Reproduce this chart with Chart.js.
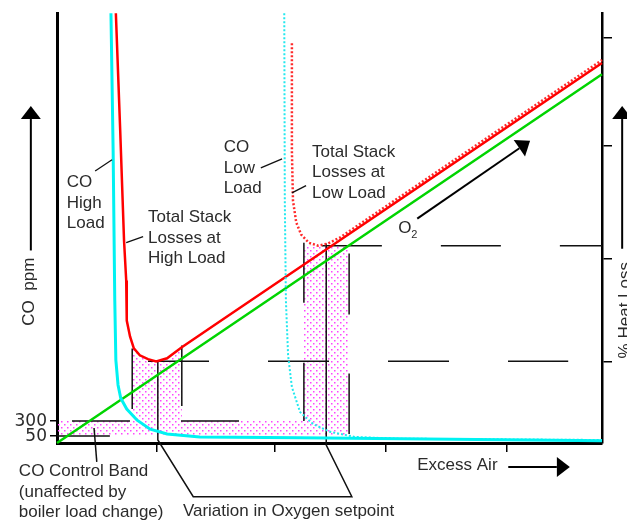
<!DOCTYPE html>
<html>
<head>
<meta charset="utf-8">
<title>Excess air, CO and stack losses</title>
<script src="https://cdn.jsdelivr.net/npm/chart.js@4.4.1/dist/chart.umd.min.js"></script>
<style>
  html, body { margin: 0; padding: 0; background: #fff; }
</style>
</head>
<body>
<canvas id="chart_box" width="627" height="524"></canvas>
<script>
// x = excess air, y = heat loss, both on a 0-100 scale
var baseLossX = [0, 100];
var baseLossY = [0, 85.8];

var stackHighX = [10.8, 11.6, 12.3, 12.7, 12.8, 13.4, 14.1, 15.2, 16.7, 18.2, 20.2, 22.9, 30.8, 100];
var stackHighY = [100, 72.6, 47.1, 37.8, 28.5, 24.8, 22.0, 20.4, 19.5, 19.0, 19.7, 22.3, 29.1, 88.4];

var stackLowX = [43.1, 43.1, 43.3, 43.9, 44.8, 46.2, 47.9, 49.7, 51.9, 100];
var stackLowY = [93.0, 68.0, 56.4, 51.3, 48.5, 46.6, 45.9, 46.4, 47.8, 89.1];

var coHighX = [9.9, 10.3, 10.6, 10.8, 11.2, 11.7, 12.8, 14.7, 17.1, 20.2, 26.2, 44.6, 100];
var coHighY = [100, 68.0, 33.2, 19.3, 13.5, 10.4, 7.9, 5.3, 3.2, 2.1, 1.4, 1.2, 0.5];

var coLowX = [41.7, 41.8, 42.0, 42.4, 43.1, 44.6, 47.0, 50.1, 54.7, 62.9, 100];
var coLowY = [100, 56.4, 33.2, 20.4, 13.0, 7.2, 4.4, 2.6, 1.4, 1.0, 0.7];

// dotted area: control band plus the two setpoint windows
var bandX = [0, 13.9, 13.9, 15.2, 16.7, 18.2, 20.2, 22.9, 22.9, 45.3, 45.3, 53.6, 53.6];
var bandY = [5.1, 5.1, 22.8, 20.4, 19.5, 19.0, 19.7, 22.3, 5.1, 5.1, 45.9, 45.9, 1.6];
var bandFloor = 1.6;

// reference lines
var highMinX = [16.7, 93.8];
var highMinY = [19.0, 19.0];
var lowMinX = [48.6, 100];
var lowMinY = [45.9, 45.9];
var ppm300X = [2.75, 33.9];
var ppm300Y = [5.1, 5.1];
var ppm50X = [0, 9.7];
var ppm50Y = [1.6, 1.6];
var highLeftX = [13.8, 13.8];
var highLeftY = [22.0, 7.9];
var highRightX = [22.9, 22.9];
var highRightY = [22.7, 8.6];
var lowLeftX = [45.3, 45.3];
var lowLeftY = [46.6, 5.1];
var lowRightX = [53.6, 53.6];
var lowRightY = [44.1, 2.1];
var bracketX = [18.5, 18.5, 25.0, 54.1, 49.4, 49.4];
var bracketY = [19.0, 0.7, -12.5, -12.5, -0.5, 46.4];
var bandLeaderX = [6.8, 7.3];
var bandLeaderY = [3.5, -4.4];

// axis ticks
var coTickValues = [1.6, 5.1];
var coTickLabels = ["50", "300"];
var lossTickValues = [18.8, 42.9, 69.1, 94.4];
var airTickValues = [18.3, 40.0, 60.4, 82.6];

function pts(xs, ys) {
  return xs.map(function (x, i) { return { x: x, y: ys[i] }; });
}

function lineSet(xs, ys, color, width, dash) {
  return {
    data: pts(xs, ys),
    borderColor: color,
    borderWidth: width,
    borderDash: dash || [],
    pointRadius: 0,
    fill: false,
    clip: false,
    tension: 0
  };
}

var canvas = document.getElementById("chart_box");
var dots = document.createElement("canvas");
dots.width = 6;
dots.height = 6;
var dctx = dots.getContext("2d");
dctx.fillStyle = "#ff44ff";
dctx.fillRect(1, 1, 1.5, 1.5);
dctx.fillRect(4, 4, 1.5, 1.5);
var dotPattern = canvas.getContext("2d").createPattern(dots, "repeat");

var black = "#111";
var ink = "#2b2b2b";
var font = '17px "Liberation Sans", Arial, sans-serif';

var textBlocks = [
  { lines: ["CO", "High", "Load"], x: 1.8, y: 60.6 },
  { lines: ["Total Stack", "Losses at", "High Load"], x: 16.7, y: 52.4 },
  { lines: ["CO", "Low", "Load"], x: 30.6, y: 68.7 },
  { lines: ["Total Stack", "Losses at", "Low Load"], x: 46.8, y: 67.7 },
  { lines: ["Excess Air"], x: 66.1, y: -5.3 },
  { lines: ["Variation in Oxygen setpoint"], x: 23.1, y: -16.0 },
  { lines: ["CO Control Band", "(unaffected by", "boiler load change)"], x: -7.0, y: -6.7 }
];
var leaders = [
  [7.0, 63.3, 10.1, 65.9],
  [12.7, 46.6, 15.8, 48.0],
  [37.4, 64.0, 41.3, 66.1],
  [43.1, 58.2, 45.7, 59.9]
];
var arrows = [
  [-4.8, 44.8, -4.8, 78.4],
  [103.7, 45.2, 103.7, 78.4],
  [82.8, -5.6, 94.1, -5.6],
  [66.1, 52.2, 86.8, 70.3]
];

var notes = {
  id: "notes",
  afterDraw: function (chart) {
    var ctx = chart.ctx;
    var xs = chart.scales.x, ys = chart.scales.y;
    function px(v) { return xs.getPixelForValue(v); }
    function py(v) { return ys.getPixelForValue(v); }

    ctx.save();
    ctx.fillStyle = ink;
    ctx.font = font;
    ctx.textAlign = "left";
    ctx.textBaseline = "middle";
    textBlocks.forEach(function (b) {
      b.lines.forEach(function (t, i) {
        ctx.fillText(t, px(b.x), py(b.y) + i * 20.5);
      });
    });

    // O2 label
    ctx.fillText("O", px(62.6), py(49.9));
    ctx.font = '11px "Liberation Sans", Arial, sans-serif';
    ctx.fillText("2", px(62.6) + 13, py(49.9) + 6);

    // rotated axis titles
    ctx.font = font;
    ctx.textAlign = "center";
    ctx.textBaseline = "alphabetic";
    ctx.save();
    ctx.translate(px(-4.3), py(35.2));
    ctx.rotate(-Math.PI / 2);
    ctx.fillText("CO  ppm", 0, 0);
    ctx.restore();
    ctx.save();
    ctx.translate(px(105.1), py(30.9));
    ctx.rotate(-Math.PI / 2);
    ctx.fillText("% Heat Loss", 0, 0);
    ctx.restore();

    // leader lines
    ctx.strokeStyle = black;
    ctx.lineWidth = 1.3;
    leaders.forEach(function (l) {
      ctx.beginPath();
      ctx.moveTo(px(l[0]), py(l[1]));
      ctx.lineTo(px(l[2]), py(l[3]));
      ctx.stroke();
    });

    // arrows
    ctx.fillStyle = "#000";
    ctx.strokeStyle = "#000";
    ctx.lineWidth = 2;
    arrows.forEach(function (a) {
      var x1 = px(a[0]), y1 = py(a[1]), x2 = px(a[2]), y2 = py(a[3]);
      var ang = Math.atan2(y2 - y1, x2 - x1);
      var len = 13, half = 10;
      var bx = x2 - len * Math.cos(ang), by = y2 - len * Math.sin(ang);
      ctx.beginPath();
      ctx.moveTo(x1, y1);
      ctx.lineTo(bx, by);
      ctx.stroke();
      ctx.beginPath();
      ctx.moveTo(x2, y2);
      ctx.lineTo(bx + half * Math.sin(ang), by - half * Math.cos(ang));
      ctx.lineTo(bx - half * Math.sin(ang), by + half * Math.cos(ang));
      ctx.closePath();
      ctx.fill();
    });
    ctx.restore();
  }
};

var shade = lineSet(bandX, bandY, "transparent", 0);
shade.fill = { value: bandFloor };
shade.backgroundColor = dotPattern;
shade.clip = 0;

new Chart(canvas, {
  type: "line",
  data: {
    datasets: [
      lineSet(coHighX, coHighY, "#00f2f2", 3),
      lineSet(coLowX, coLowY, "#22e8ee", 2, [2, 2]),
      lineSet(stackHighX, stackHighY, "#ff0000", 2.5),
      lineSet(stackLowX, stackLowY, "#ff2a2a", 2.5, [2, 2]),
      lineSet(baseLossX, baseLossY, "#00d400", 2.5),
      lineSet(highMinX, highMinY, black, 1.5, [61, 59]),
      lineSet(lowMinX, lowMinY, black, 1.5, [60, 59]),
      lineSet(ppm300X, ppm300Y, black, 1.5, [58, 51]),
      lineSet(ppm50X, ppm50Y, black, 1.5),
      lineSet(highLeftX, highLeftY, black, 1.5),
      lineSet(highRightX, highRightY, black, 1.5),
      lineSet(lowLeftX, lowLeftY, black, 1.5, [60, 60]),
      lineSet(lowRightX, lowRightY, black, 1.5, [61, 59]),
      lineSet(bracketX, bracketY, black, 1.5),
      lineSet(bandLeaderX, bandLeaderY, black, 1.5),
      shade
    ]
  },
  options: {
    responsive: false,
    animation: false,
    events: [],
    layout: { padding: { top: 12, left: 0, right: 0, bottom: 0 } },
    plugins: {
      legend: { display: false },
      tooltip: { enabled: false }
    },
    scales: {
      x: {
        type: "linear",
        min: 0,
        max: 100,
        afterBuildTicks: function (s) {
          s.ticks = airTickValues.map(function (v) { return { value: v }; });
        },
        ticks: { callback: function () { return ""; }, autoSkip: false },
        grid: { drawOnChartArea: false, tickLength: 9, color: "#000", lineWidth: 1.5 },
        border: { display: true, color: "#000", width: 3 },
        afterFit: function (s) { s.height = 81; }
      },
      y: {
        type: "linear",
        position: "left",
        min: 0,
        max: 100,
        afterBuildTicks: function (s) {
          s.ticks = coTickValues.map(function (v) { return { value: v }; });
        },
        ticks: {
          autoSkip: false,
          padding: 3,
          color: ink,
          font: { size: 17, family: "DejaVu Sans" },
          callback: function (v, i) { return coTickLabels[i]; }
        },
        grid: { drawOnChartArea: false, tickLength: 7, color: "#000", lineWidth: 1.5 },
        border: { display: true, color: "#000", width: 3 },
        afterFit: function (s) { s.width = 57; }
      },
      y2: {
        type: "linear",
        position: "right",
        min: 0,
        max: 100,
        afterBuildTicks: function (s) {
          s.ticks = lossTickValues.map(function (v) { return { value: v }; });
        },
        ticks: { callback: function () { return ""; }, autoSkip: false },
        grid: { drawOnChartArea: false, tickLength: 10, color: "#000", lineWidth: 1.5 },
        border: { display: true, color: "#000", width: 2.5 },
        afterFit: function (s) { s.width = 25; }
      }
    }
  },
  plugins: [notes]
});
</script>
</body>
</html>
